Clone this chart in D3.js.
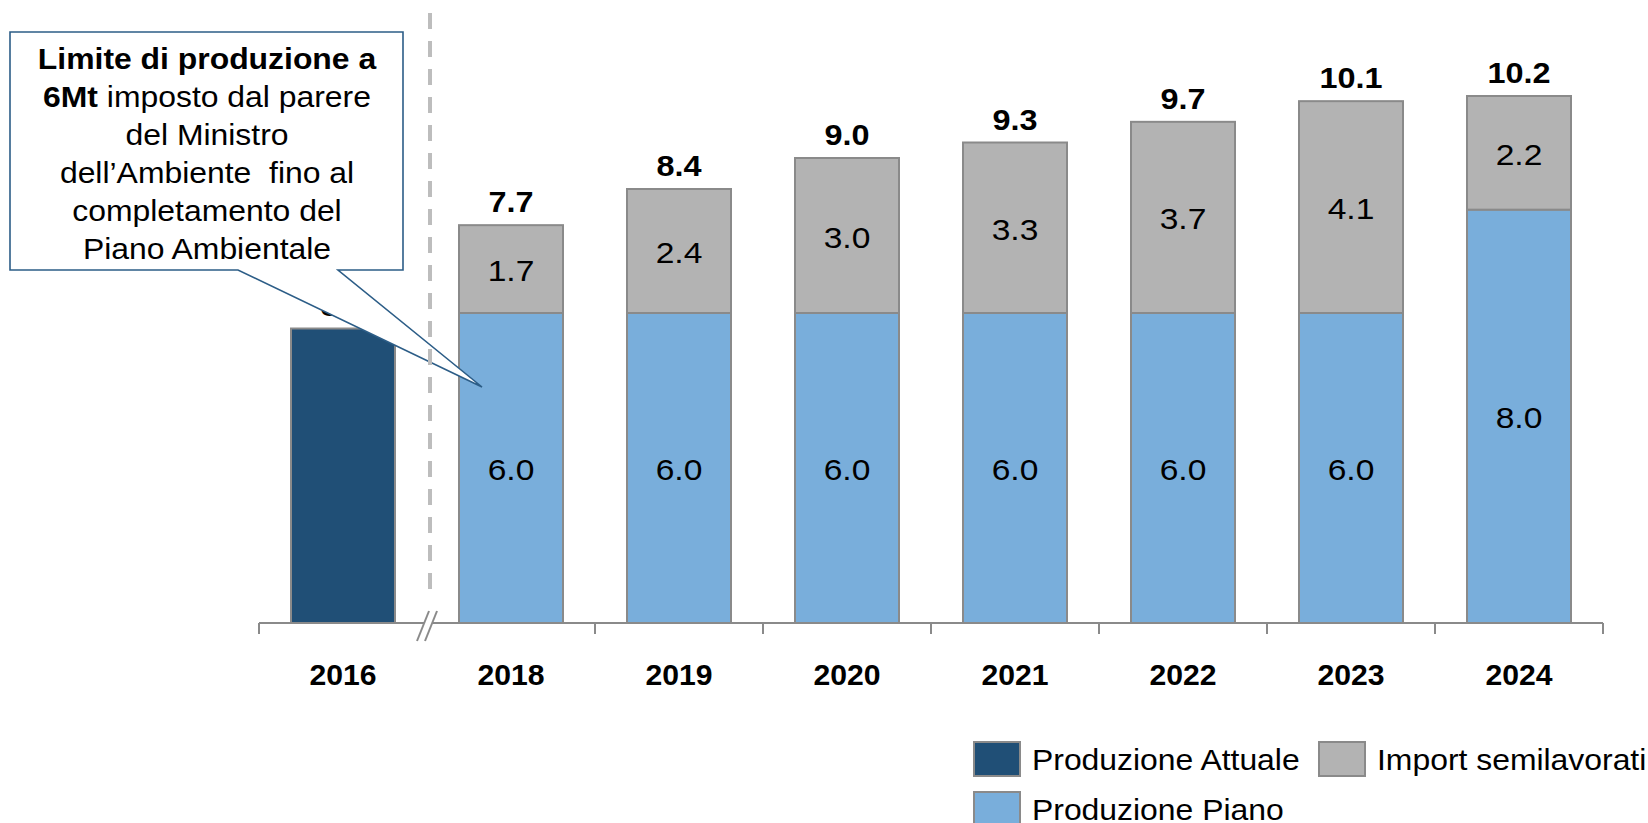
<!DOCTYPE html>
<html lang="it">
<head>
    <meta charset="UTF-8">
    <title>Produzione</title>
    <script src="https://d3js.org/d3.v7.min.js"></script>
    <style>
        body { margin: 0; background: #fff; }
        text { font-family: "Liberation Sans", Arial, sans-serif; fill: #000; }
    </style>
</head>
<body>
<script>
    const years      = ["2016", "2018", "2019", "2020", "2021", "2022", "2023", "2024"];
    const attuale    = [5.7, 0, 0, 0, 0, 0, 0, 0];
    const piano      = [0, 6.0, 6.0, 6.0, 6.0, 6.0, 6.0, 8.0];
    const importSemi = [0, 1.7, 2.4, 3.0, 3.3, 3.7, 4.1, 2.2];

    const keys   = ["attuale", "piano", "importSemi"];
    const names  = {attuale: "Produzione Attuale", piano: "Produzione Piano", importSemi: "Import semilavorati"};
    const colors = {attuale: "#204f76", piano: "#79aedb", importSemi: "#b3b3b3"};

    const calloutLines = [
        [{t: "Limite di produzione a", b: true}],
        [{t: "6Mt", b: true}, {t: " imposto dal parere", b: false}],
        [{t: "del Ministro", b: false}],
        [{t: "dell\u2019Ambiente  fino al", b: false}],
        [{t: "completamento del", b: false}],
        [{t: "Piano Ambientale", b: false}]
    ];

    const width  = 1648;
    const height = 823;
    const baseY  = 623;
    const sx     = 1.1;   // text in the original is a bit wider than Arial

    const table = years.map((y, i) => ({year: y, attuale: attuale[i], piano: piano[i], importSemi: importSemi[i]}));
    const series = d3.stack().keys(keys)(table);

    const x = d3.scaleBand()
                .domain(years)
                .range([259, 1603])
                .paddingInner(0.381)
                .paddingOuter(0.1905);
    const y = d3.scaleLinear().domain([0, 12]).range([baseY, 3]);

    const svg = d3.select("body").append("svg").attr("width", width).attr("height", height);

    const place = (px, py, s) => `translate(${px},${py}) scale(${s},1)`;

    // bars
    const layer = svg.selectAll("g.layer")
            .data(series)
            .enter().append("g")
            .attr("class", "layer")
            .attr("fill", d => colors[d.key]);

    layer.selectAll("rect")
            .data(d => d.filter(p => p[1] - p[0] > 0))
            .enter().append("rect")
            .attr("x", d => x(d.data.year))
            .attr("y", d => y(d[1]))
            .attr("width", x.bandwidth())
            .attr("height", d => y(d[0]) - y(d[1]))
            .attr("stroke", "#8a8a8a")
            .attr("stroke-width", 2);

    // values inside segments (not for 2016)
    layer.filter(d => d.key !== "attuale").selectAll("text")
            .data(d => d.filter(p => p[1] - p[0] > 0))
            .enter().append("text")
            .attr("transform", d => place(x(d.data.year) + x.bandwidth() / 2, (y(d[0]) + y(d[1])) / 2 + 12, 1.12))
            .attr("text-anchor", "middle")
            .style("font-size", "30px")
            .text(d => (d[1] - d[0]).toFixed(1));

    // totals
    svg.selectAll("text.total")
            .data(table)
            .enter().append("text")
            .attr("class", "total")
            .attr("transform", d => place(x(d.year) + x.bandwidth() / 2, y(d.attuale + d.piano + d.importSemi) - 13, 1.08))
            .attr("text-anchor", "middle")
            .style("font-size", "30px")
            .style("font-weight", "bold")
            .text(d => (d.attuale + d.piano + d.importSemi).toFixed(1));

    // x axis
    const step = x.step();
    const bounds = years.map(d => x(d) + x.bandwidth() / 2 - step / 2).concat([x(years[years.length - 1]) + x.bandwidth() / 2 + step / 2]);
    const breakX = bounds[1];

    svg.append("line")
            .attr("x1", bounds[0]).attr("x2", bounds[bounds.length - 1])
            .attr("y1", baseY).attr("y2", baseY)
            .attr("stroke", "#8a8a8a").attr("stroke-width", 2);

    svg.selectAll("line.tick")
            .data(bounds.filter((b, i) => i !== 1))
            .enter().append("line")
            .attr("class", "tick")
            .attr("x1", d => d).attr("x2", d => d)
            .attr("y1", baseY).attr("y2", baseY + 11)
            .attr("stroke", "#8a8a8a").attr("stroke-width", 2);

    // axis break
    svg.append("path")
            .attr("d", `M${breakX - 10},641 L${breakX + 2},611 L${breakX + 10},611 L${breakX - 2},641 Z`)
            .attr("fill", "#fff");
    svg.selectAll("line.brk")
            .data([-10, -2])
            .enter().append("line")
            .attr("class", "brk")
            .attr("x1", d => breakX + d).attr("y1", 641)
            .attr("x2", d => breakX + d + 12).attr("y2", 611)
            .attr("stroke", "#8a8a8a").attr("stroke-width", 2);

    const xAxis = svg.append("g")
            .attr("transform", `translate(0,${baseY})`)
            .call(d3.axisBottom(x).tickSize(0).tickPadding(41));
    xAxis.select(".domain").remove();
    xAxis.selectAll("text")
            .attr("transform", "scale(1.04,1)")
            .style("font-family", '"Liberation Sans", Arial, sans-serif')
            .style("font-size", "29px")
            .style("font-weight", "bold")
            .attr("fill", "#000");

    // callout
    svg.append("path")
            .attr("d", "M10,32 H403 V270 H338 L482,387 L238,270 H10 Z")
            .attr("fill", "#fff")
            .attr("stroke", "#2c5d87")
            .attr("stroke-width", 1.6);

    const callout = svg.append("text")
            .attr("transform", place(207, 0, sx))
            .attr("text-anchor", "middle")
            .style("font-size", "29px")
            .style("white-space", "pre");
    calloutLines.forEach((line, i) => {
        const row = callout.append("tspan").attr("x", 0).attr("y", 69 + i * 38);
        line.forEach(part => {
            row.append("tspan")
               .style("font-weight", part.b ? "bold" : "normal")
               .text(part.t);
        });
    });

    // dashed separator
    svg.append("line")
            .attr("x1", breakX + 3).attr("x2", breakX + 3)
            .attr("y1", 13).attr("y2", 597)
            .attr("stroke", "#bdbdbd")
            .attr("stroke-width", 4)
            .attr("stroke-dasharray", "16,12");

    // legend
    const legendItems = [
        {key: "attuale", x: 974, y: 742},
        {key: "importSemi", x: 1319, y: 742},
        {key: "piano", x: 974, y: 792}
    ];
    const leg = svg.selectAll("g.legend")
            .data(legendItems)
            .enter().append("g")
            .attr("class", "legend")
            .attr("transform", d => `translate(${d.x},${d.y})`);
    leg.append("rect")
            .attr("width", 46).attr("height", 34)
            .attr("fill", d => colors[d.key])
            .attr("stroke", "#8a8a8a").attr("stroke-width", 2);
    leg.append("text")
            .attr("transform", place(58, 28, sx))
            .style("font-size", "29px")
            .text(d => names[d.key]);
</script>
</body>
</html>
